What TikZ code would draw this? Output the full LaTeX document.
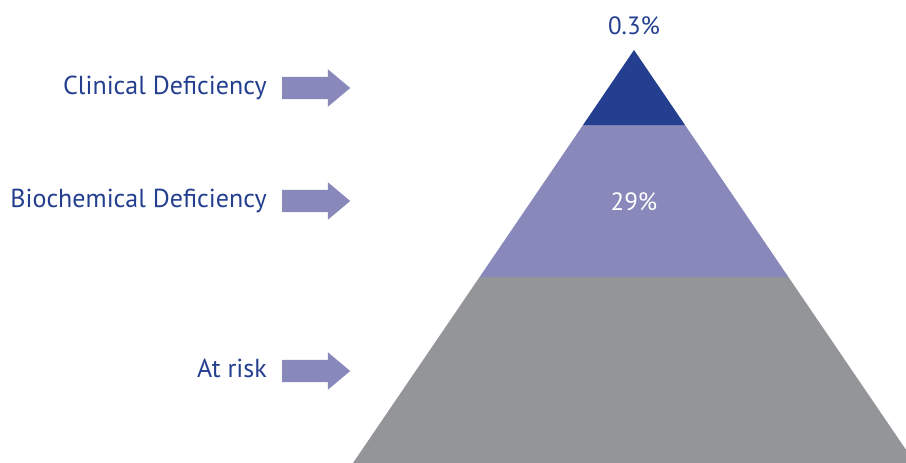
\documentclass[tikz,border=0pt]{standalone}
\usepackage{fontspec}
\setmainfont{PT Sans}
\usetikzlibrary{shapes.arrows,positioning}
\definecolor{tipblue}{HTML}{243F8F}
\definecolor{midpurple}{HTML}{8888BB}
\definecolor{basegray}{HTML}{939598}
\tikzset
{
    levellabel/.style = {anchor=base east, text=tipblue, inner sep=0pt, text height=16pt, text depth=4pt, font=\fontsize{26}{31}\selectfont},
    levelarrow/.style = {single arrow, fill=midpurple, draw=none, inner xsep=0pt, inner ysep=11pt, minimum height=68pt, single arrow head extend=7.5pt, single arrow tip angle=80},
    pct/.style        = {inner sep=0pt, font=\fontsize{25}{30}\selectfont}
}

\begin{document}
\begin{tikzpicture}[x=1pt, y=-1pt]
	\useasboundingbox (0,0) rectangle (906,463);
	\clip (0,0) rectangle (906,463);

	% pyramid corners
	\coordinate (apex) at (634,50);
	\coordinate (t1) at (583,125);
	\coordinate (t2) at (685,125);
	\coordinate (m1) at (479.6,277);
	\coordinate (m2) at (788.4,277);
	\coordinate (b1) at (353,463);
	\coordinate (b2) at (915,463);

	\fill [basegray] (m1) -- (m2) -- (b2) -- (b1) -- cycle;
	\fill [midpurple] (t1) -- (t2) -- (m2) -- (m1) -- cycle;
	\fill [tipblue] (apex) -- (t2) -- (t1) -- cycle;

	\node (p0) [pct, text=tipblue] at (634,26) {0.3\%};
	\node (p1) [pct, text=white] at (634,202) {29\%};

	\node (clin) [levellabel] at (267,94) {Clinical Deficiency};
	\node (bio) [levellabel] at (267,207) {Biochemical Deficiency};
	\node (risk) [levellabel] at (267,377) {At risk};

	\node (a1) [levelarrow, right=15pt of clin] {};
	\node (a2) [levelarrow, right=15pt of bio] {};
	\node (a3) [levelarrow, right=15pt of risk] {};
\end{tikzpicture}
\end{document}
